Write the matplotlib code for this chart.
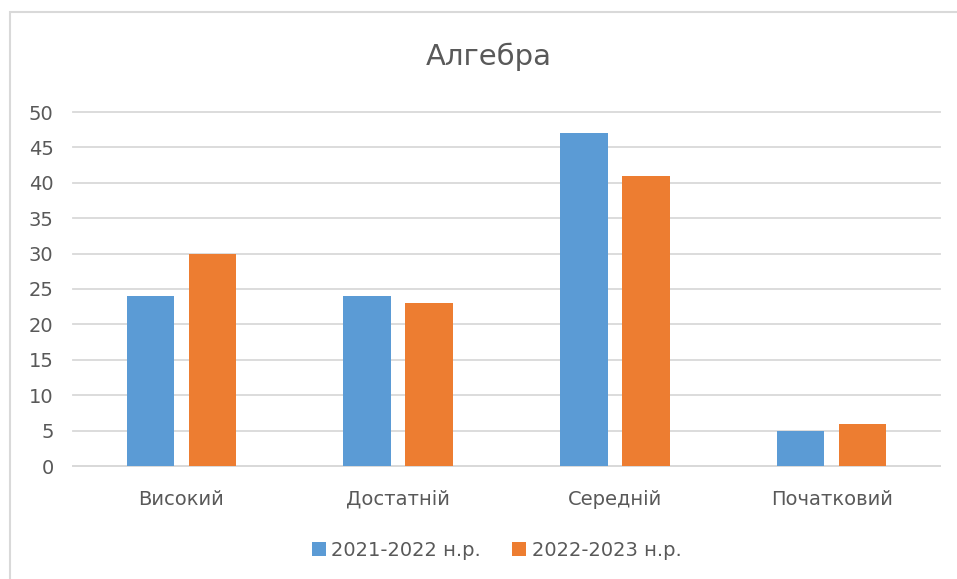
import matplotlib
matplotlib.use("Agg")
import matplotlib.pyplot as plt
from matplotlib.patches import Rectangle
import numpy as np

categories = ["Високий", "Достатній", "Середній", "Початковий"]
series_names = ["2021-2022 н.р.", "2022-2023 н.р."]
values_2021 = [24, 24, 47, 5]
values_2022 = [30, 23, 41, 6]
y_ticks = [0, 5, 10, 15, 20, 25, 30, 35, 40, 45, 50]

BLUE = "#5B9BD5"
ORANGE = "#ED7D31"
GRID = "#D9D9D9"
TEXT = "#595959"

plt.rcParams["font.family"] = ["DejaVu Sans"]

fig = plt.figure(figsize=(9.57, 5.79), dpi=100)
ax = fig.add_axes([73 / 957, 1 - 466 / 579, (940 - 73) / 957, (466 - 112) / 579])

x = np.arange(len(categories))
width = 0.22
offset = 0.143

ax.bar(x - offset, values_2021, width, color=BLUE, label=series_names[0], zorder=3)
ax.bar(x + offset, values_2022, width, color=ORANGE, label=series_names[1], zorder=3)

ax.set_xlim(-0.5, len(categories) - 0.5)
ax.set_ylim(0, 50)
ax.set_yticks(y_ticks)
ax.set_xticks(x)
ax.set_xticklabels(categories)

ax.yaxis.grid(True, color=GRID, linewidth=1.3, zorder=0)
for gl in ax.get_ygridlines():
    gl.set_clip_on(False)
ax.set_axisbelow(True)
for side in ["top", "right", "left"]:
    ax.spines[side].set_visible(False)
ax.spines["bottom"].set_color(GRID)
ax.spines["bottom"].set_linewidth(1.3)

ax.tick_params(axis="both", length=0, labelcolor=TEXT, labelsize=14)
ax.tick_params(axis="y", pad=14)
ax.tick_params(axis="x", pad=17)

fig.text(0.511, 1 - 57 / 579, "Алгебра", ha="center", va="center",
         fontsize=21, color=TEXT)

fig.legend(loc="center", bbox_to_anchor=(0.519, 1 - 550 / 579), ncol=2,
           frameon=False, fontsize=14, labelcolor=TEXT,
           handlelength=0.7, handleheight=0.7, handletextpad=0.3,
           columnspacing=1.6)

# chart frame, cropped on the right and bottom
fig.patches.append(Rectangle((9.5 / 957, -0.1), 2, (579 - 12) / 579 + 0.1,
                             transform=fig.transFigure, fill=False,
                             edgecolor=GRID, linewidth=1.5))

fig.savefig("out.png", dpi=100)
